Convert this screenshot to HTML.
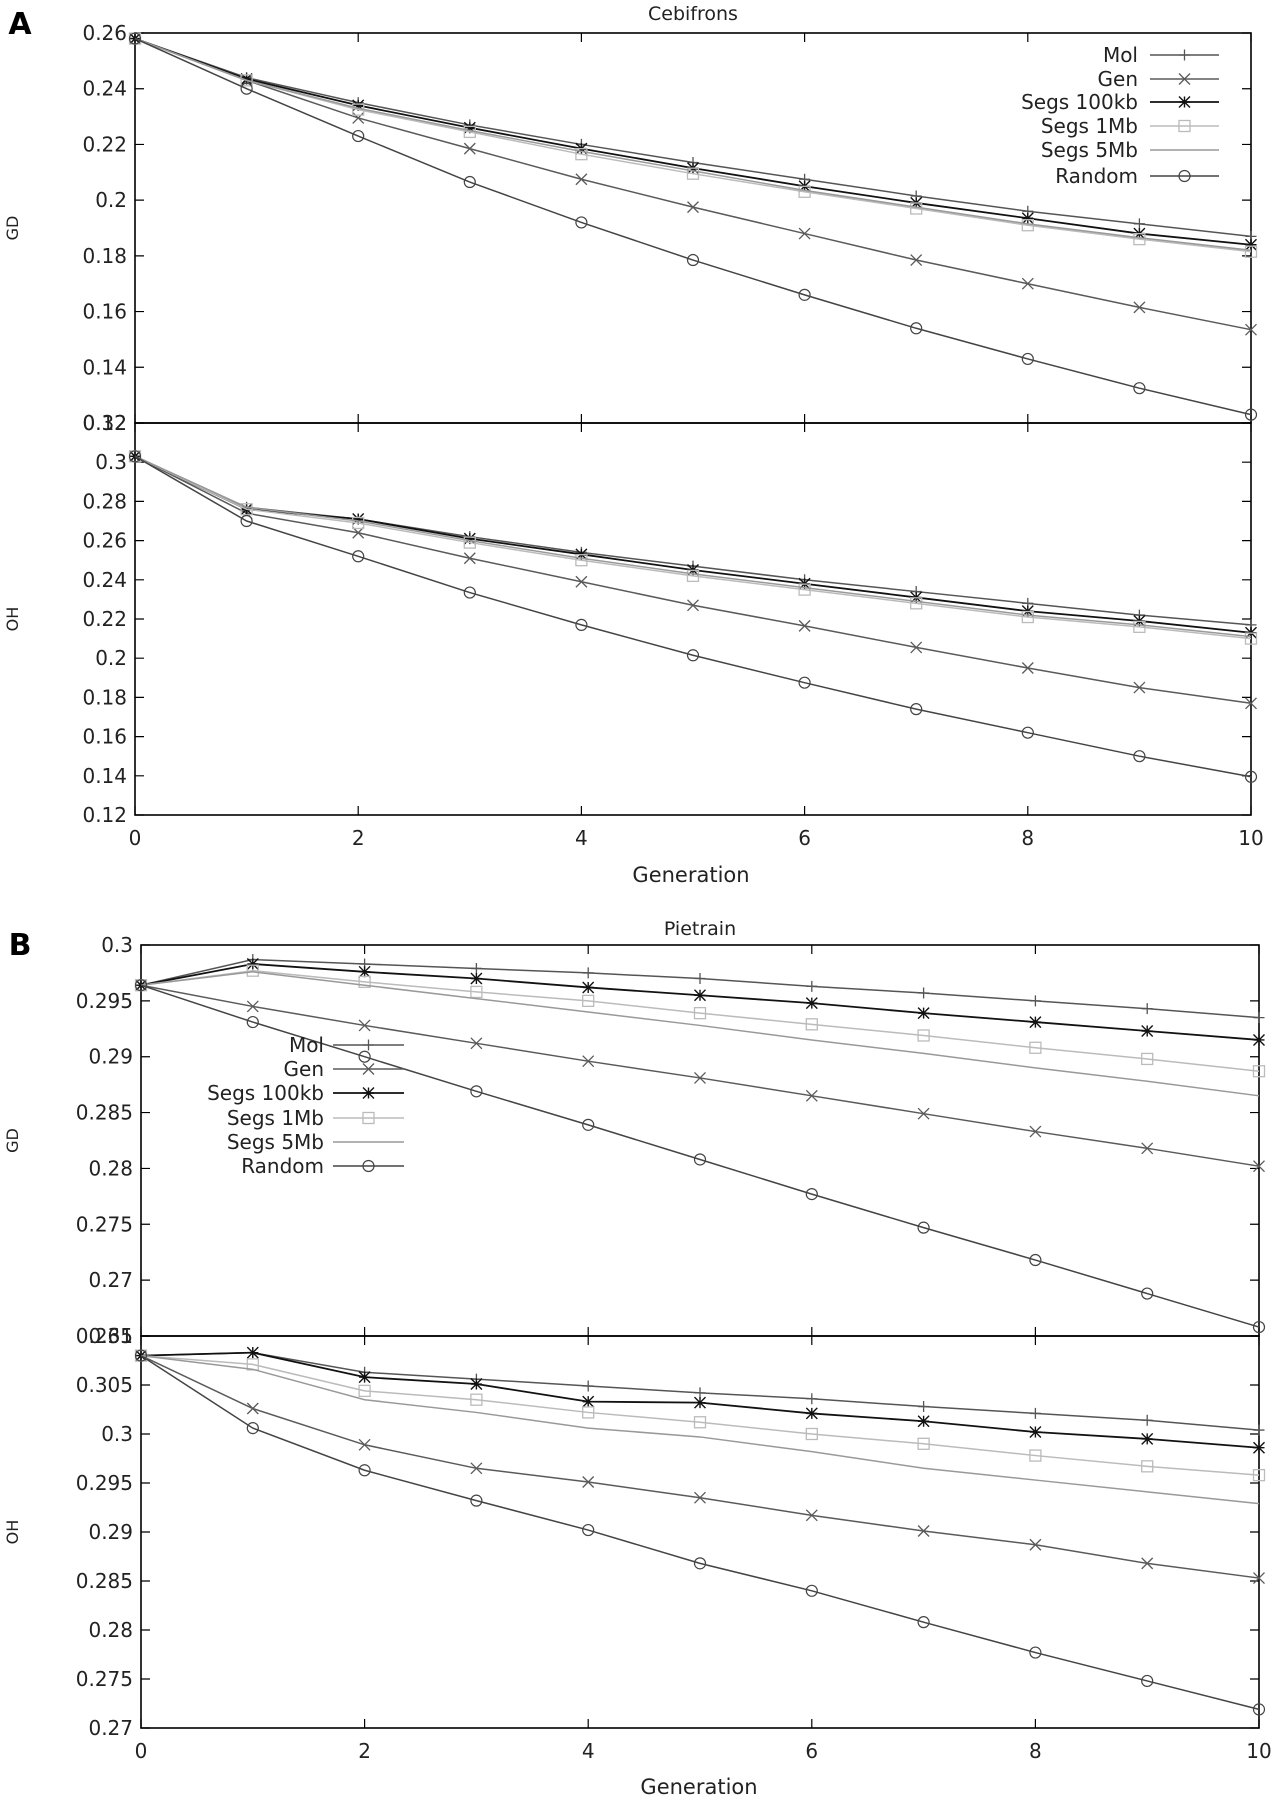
<!DOCTYPE html>
<html><head><meta charset="utf-8"><style>
body{margin:0;background:#fff}
svg{display:block;font-family:"DejaVu Sans","Liberation Sans",sans-serif}
</style></head><body>
<svg id="fig" width="1277" height="1800" viewBox="0 0 1277 1800" xmlns="http://www.w3.org/2000/svg"></svg>
<script>
const generations=[0,1,2,3,4,5,6,7,8,9,10];
const seriesNames=["Mol","Gen","Segs 100kb","Segs 1Mb","Segs 5Mb","Random"];
const aGD_Mol=[0.258,0.244,0.235,0.227,0.220,0.2135,0.2075,0.2015,0.196,0.1915,0.187];
const aGD_Gen=[0.258,0.243,0.2295,0.2185,0.2075,0.1975,0.188,0.1785,0.17,0.1615,0.1535];
const aGD_100kb=[0.258,0.2435,0.234,0.226,0.2185,0.2115,0.205,0.199,0.1935,0.188,0.184];
const aGD_1Mb=[0.258,0.243,0.2325,0.2245,0.2165,0.2095,0.203,0.197,0.191,0.186,0.1815];
const aGD_5Mb=[0.258,0.243,0.233,0.225,0.2175,0.2105,0.2035,0.1975,0.1915,0.1865,0.182];
const aGD_Random=[0.258,0.240,0.223,0.2065,0.192,0.1785,0.166,0.154,0.143,0.1325,0.123];
const aOH_Mol=[0.303,0.277,0.271,0.262,0.254,0.247,0.240,0.234,0.228,0.222,0.217];
const aOH_Gen=[0.303,0.274,0.264,0.251,0.239,0.227,0.2165,0.2055,0.195,0.185,0.177];
const aOH_100kb=[0.303,0.276,0.271,0.261,0.253,0.245,0.238,0.231,0.224,0.219,0.213];
const aOH_1Mb=[0.303,0.276,0.269,0.259,0.250,0.242,0.235,0.228,0.221,0.216,0.210];
const aOH_5Mb=[0.303,0.277,0.270,0.260,0.251,0.243,0.236,0.229,0.222,0.217,0.211];
const aOH_Random=[0.303,0.270,0.252,0.2335,0.217,0.2015,0.1875,0.174,0.162,0.150,0.1395];
const bGD_Mol=[0.2964,0.2987,0.2983,0.2979,0.2975,0.2970,0.2963,0.2957,0.2950,0.2943,0.2935];
const bGD_Gen=[0.2964,0.2945,0.2928,0.2912,0.2896,0.2881,0.2865,0.2849,0.2833,0.2818,0.2802];
const bGD_100kb=[0.2964,0.2983,0.2976,0.2970,0.2962,0.2955,0.2948,0.2939,0.2931,0.2923,0.2915];
const bGD_1Mb=[0.2964,0.2977,0.2967,0.2958,0.2950,0.2939,0.2929,0.2919,0.2908,0.2898,0.2887];
const bGD_5Mb=[0.2964,0.2976,0.2964,0.2952,0.2940,0.2928,0.2915,0.2903,0.2890,0.2878,0.2865];
const bGD_Random=[0.2964,0.2931,0.2900,0.2869,0.2839,0.2808,0.2777,0.2747,0.2718,0.2688,0.2658];
const bOH_Mol=[0.308,0.3083,0.3063,0.3056,0.3049,0.3042,0.3036,0.3028,0.3021,0.3014,0.3004];
const bOH_Gen=[0.308,0.3026,0.2989,0.2965,0.2951,0.2935,0.2917,0.2901,0.2887,0.2868,0.2853];
const bOH_100kb=[0.308,0.3083,0.3058,0.3051,0.3033,0.3032,0.3021,0.3013,0.3002,0.2995,0.2986];
const bOH_1Mb=[0.308,0.3071,0.3044,0.3035,0.3022,0.3012,0.3000,0.2990,0.2978,0.2967,0.2958];
const bOH_5Mb=[0.308,0.3066,0.3035,0.3022,0.3006,0.2997,0.2982,0.2965,0.2953,0.2941,0.2929];
const bOH_Random=[0.308,0.3006,0.2963,0.2932,0.2902,0.2868,0.2840,0.2808,0.2777,0.2748,0.2719];
const xTickLabels=["0","2","4","6","8","10"];
const aGDTicks=["0.12","0.14","0.16","0.18","0.2","0.22","0.24","0.26"];
const aOHTicks=["0.12","0.14","0.16","0.18","0.2","0.22","0.24","0.26","0.28","0.3","0.32"];
const bGDTicks=["0.265","0.27","0.275","0.28","0.285","0.29","0.295","0.3"];
const bOHTicks=["0.27","0.275","0.28","0.285","0.29","0.295","0.3","0.305","0.31"];

const NS="http://www.w3.org/2000/svg";
const svg=document.getElementById('fig');
const colors=["#555","#5a5a5a","#111","#bbb","#999","#444"];
const markers=["plus","cross","star","square","none","circle"];
function el(tag,attrs,parent){const e=document.createElementNS(NS,tag);for(const k in attrs)e.setAttribute(k,attrs[k]);(parent||svg).appendChild(e);return e;}
function txt(s,x,y,anchor,size,parent){const t=el('text',{x:x,y:y,'text-anchor':anchor,'font-size':size,fill:'#222'},parent);t.textContent=s;return t;}
function marker(kind,x,y,c,g){
  const s=5.5;
  if(kind==="plus"){el('path',{d:`M${x-s} ${y}H${x+s}M${x} ${y-s}V${y+s}`,stroke:c,'stroke-width':1.3,fill:'none'},g);}
  else if(kind==="cross"){el('path',{d:`M${x-s} ${y-s}L${x+s} ${y+s}M${x-s} ${y+s}L${x+s} ${y-s}`,stroke:c,'stroke-width':1.3,fill:'none'},g);}
  else if(kind==="star"){el('path',{d:`M${x-s} ${y}H${x+s}M${x} ${y-s}V${y+s}M${x-s} ${y-s}L${x+s} ${y+s}M${x-s} ${y+s}L${x+s} ${y-s}`,stroke:c,'stroke-width':1.4,fill:'none'},g);}
  else if(kind==="square"){el('rect',{x:x-s,y:y-s,width:2*s,height:2*s,stroke:c,'stroke-width':1.3,fill:'none'},g);}
  else if(kind==="circle"){el('circle',{cx:x,cy:y,r:s,stroke:c,'stroke-width':1.2,fill:'none'},g);}
}
function panel(name,L,R,T,B,ymin,ymax,ticks,ylabel,series,showXLabels){
  const g=el('g',{});
  
  
  const xs=v=>L+(v-0)/(10-0)*(R-L);
  const ys=v=>B-(v-ymin)/(ymax-ymin)*(B-T);
  el('rect',{x:L,y:T,width:R-L,height:B-T,fill:'none',stroke:'#000','stroke-width':1.6},g);
  ticks.forEach(t=>{const v=parseFloat(t);const y=ys(v);
    el('path',{d:`M${L} ${y}h9M${R} ${y}h-9`,stroke:'#000','stroke-width':1.2},g);
    const lt=txt(t,L-8,y+7,'end',20,g);
    
    });
  xTickLabels.forEach(t=>{const x=xs(parseFloat(t));
    el('path',{d:`M${x} ${B}v-9M${x} ${T}v9`,stroke:'#000','stroke-width':1.2},g);
    if(showXLabels){const lt=txt(t,x,B+30,'middle',20,g);
      
      }});
  const yl=txt(ylabel,0,0,'middle',16,g);
  yl.setAttribute('transform',`translate(18 ${(T+B)/2}) rotate(-90)`);
  
  
  series.forEach((vals,i)=>{
    const sg=el('g',{},g);
    
    
    const pts=vals.map((v,j)=>xs(generations[j])+','+ys(v)).join(' ');
    el('polyline',{points:pts,fill:'none',stroke:colors[i],'stroke-width':i===2?1.8:1.5},sg);
    vals.forEach((v,j)=>marker(markers[i],xs(generations[j]),ys(v),colors[i],sg));
  });
}
function legend(name,textX,lineX1,lineX2,ys){
  const g=el('g',{});
  
  
  seriesNames.forEach((n,i)=>{
    const e=el('g',{},g);
    
    
    txt(n,textX,ys[i]+7,'end',20,e);
    el('line',{x1:lineX1,x2:lineX2,y1:ys[i],y2:ys[i],stroke:colors[i],'stroke-width':i===2?1.8:1.5},e);
    marker(markers[i],(lineX1+lineX2)/2,ys[i],colors[i],e);
  });
}
function label(s,x,y,size,name,bold){const t=txt(s,x,y,'middle',size);if(bold){t.setAttribute('font-weight','bold');t.setAttribute('fill','#000');}
  }

// Panel A
label("A",20,34,30,'panel-a-label',true);
label("Cebifrons",693,20,19,'chart-title-a');
panel('plot-a-gd',135,1251,33,423,0.12,0.26,aGDTicks,'GD',[aGD_Mol,aGD_Gen,aGD_100kb,aGD_1Mb,aGD_5Mb,aGD_Random],false);
panel('plot-a-oh',135,1251,423,815,0.12,0.32,aOHTicks,'OH',[aOH_Mol,aOH_Gen,aOH_100kb,aOH_1Mb,aOH_5Mb,aOH_Random],true);
label("Generation",691,882,21,'x-axis-title-a');
legend('legend-a',1138,1150,1219,[55,79,102,126,150,176]);
// Panel B
label("B",20,955,30,'panel-b-label',true);
label("Pietrain",700,935,19,'chart-title-b');
panel('plot-b-gd',141,1259,945,1336,0.265,0.3,bGDTicks,'GD',[bGD_Mol,bGD_Gen,bGD_100kb,bGD_1Mb,bGD_5Mb,bGD_Random],false);
panel('plot-b-oh',141,1259,1336,1728,0.27,0.31,bOHTicks,'OH',[bOH_Mol,bOH_Gen,bOH_100kb,bOH_1Mb,bOH_5Mb,bOH_Random],true);
label("Generation",699,1794,21,'x-axis-title-b');
legend('legend-b',324,333,404,[1045,1069,1093,1118,1142,1166]);
</script>
</body></html>
